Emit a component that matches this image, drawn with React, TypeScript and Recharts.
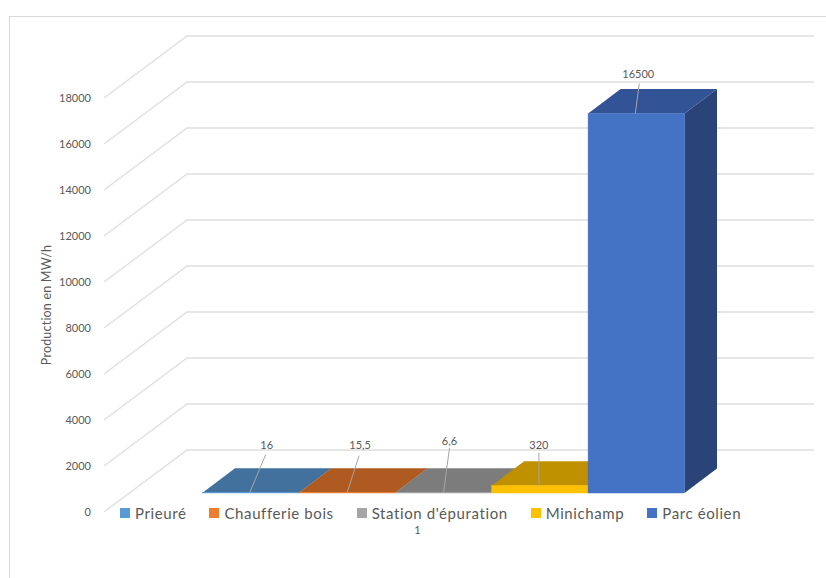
import { Bar, BarChart, CartesianGrid, LabelList, Legend, XAxis, YAxis } from "recharts";

const CATEGORIES = ["1"];
const SERIES_NAMES = ["Prieuré", "Chaufferie bois", "Station d'épuration", "Minichamp", "Parc éolien"];
const SERIES_VALUES = [16, 15.5, 6.6, 320, 16500];
const Y_TICKS = [0, 2000, 4000, 6000, 8000, 10000, 12000, 14000, 16000, 18000];

const FRONT_COLORS = ["#5b9bd5", "#ed7d31", "#a5a5a5", "#ffc000", "#4472c4"];
const TOP_COLORS = ["#41719c", "#ae5a21", "#7c7c7c", "#bf9000", "#325395"];
const SIDE_COLORS = ["#2e5a82", "#8a4519", "#636363", "#997300", "#2a4479"];

// label / leader offsets from the centre of each bar's top edge
const LABEL_OFFSETS = [
  { dx: 16, dy: -48, lx: 15, ly: -38, bx: -1 },
  { dx: 13, dy: -48, lx: 12, ly: -37, bx: 0 },
  { dx: 6, dy: -52, lx: 6, ly: -45, bx: 0 },
  { dx: -1, dy: -41, lx: -1, ly: -33, bx: -1 },
  { dx: 2, dy: -40, lx: 3, ly: -30, bx: -1 }
];

const chartData = CATEGORIES.map((name) => {
  const row: Record<string, string | number> = { name };
  SERIES_NAMES.forEach((s, i) => {
    row[s] = SERIES_VALUES[i];
  });
  return row;
});

// back wall sits up and right of the axis labels
const WALL_DX = 83;
const WALL_DY = -62;
// bars stand a little way into the floor
const BAR_DX = 25.5;
const BAR_DY = -19;
const DEPTH_DX = 32.5;
const DEPTH_DY = -24.5;

const FONT = "Lato, 'Open Sans', sans-serif";
const TEXT_COLOR = "#595959";

function GridLine(props: any) {
  const { x1, x2, y1, key } = props;
  const pts = `${x1},${y1} ${x1 + WALL_DX},${y1 + WALL_DY} ${x2 + WALL_DX},${y1 + WALL_DY}`;
  return <polyline key={key} points={pts} fill="none" stroke="#dedede" strokeWidth={1.3} />;
}

function makeBarShape(index: number) {
  return function BarShape(props: any) {
    const { width, height } = props;
    const x = props.x + BAR_DX;
    const y = props.y + BAR_DY;
    const right = x + width;
    const bottom = y + height;
    const top = `${x},${y} ${x + DEPTH_DX},${y + DEPTH_DY} ${right + DEPTH_DX},${y + DEPTH_DY} ${right},${y}`;
    const side = `${right},${y} ${right + DEPTH_DX},${y + DEPTH_DY} ${right + DEPTH_DX},${bottom + DEPTH_DY} ${right},${bottom}`;
    return (
      <g>
        <polygon points={side} fill={SIDE_COLORS[index]} />
        <polygon points={top} fill={TOP_COLORS[index]} />
        <rect x={x} y={y} width={width} height={height} fill={FRONT_COLORS[index]} stroke={FRONT_COLORS[index]} strokeWidth={0.5} />
      </g>
    );
  };
}

function makeLeaderLabel(index: number) {
  return function LeaderLabel(props: any) {
    const box = props.viewBox;
    const o = LABEL_OFFSETS[index];
    const cx = box.x + box.width / 2 + BAR_DX;
    const cy = box.y + BAR_DY;
    return (
      <g>
        <line x1={cx + o.bx} y1={cy} x2={cx + o.lx} y2={cy + o.ly} stroke="#a6a6a6" strokeWidth={1} />
        <text x={cx + o.dx} y={cy + o.dy} textAnchor="middle" dominantBaseline="central" fontFamily={FONT} fontSize={11} fill={TEXT_COLOR}>
          {String(props.value).replace(".", ",")}
        </text>
      </g>
    );
  };
}

function LegendRow({ payload }: any) {
  return (
    <div style={{ display: "flex", gap: 23, fontFamily: FONT, fontSize: 15, letterSpacing: 0.6, color: TEXT_COLOR, whiteSpace: "nowrap" }}>
      {(payload || []).map((item: any) => (
        <div key={item.value} style={{ display: "flex", alignItems: "center", gap: 5 }}>
          <span style={{ width: 10, height: 10, background: item.color, display: "inline-block" }} />
          <span>{item.value}</span>
        </div>
      ))}
    </div>
  );
}

export default function App() {
  return (
    <div style={{ position: "absolute", left: 0, top: 0, width: 826, height: 578, background: "#fff", overflow: "hidden" }}>
      <div style={{ position: "absolute", left: 9, top: 16, width: 817, height: 562, borderLeft: "1px solid #d9d9d9", borderTop: "1px solid #d9d9d9" }} />
      <div style={{ position: "absolute", left: 0, top: 0 }}>
        <BarChart
          width={826}
          height={578}
          data={chartData}
          margin={{ top: 98, right: 95, bottom: 36, left: 0 }}
          barGap={0}
          barSize={96.4}
          style={{ overflow: "visible" }}
        >
          <CartesianGrid vertical={false} horizontal={GridLine as any} />
          <XAxis
            dataKey="name"
            height={30}
            axisLine={false}
            tickLine={false}
            tickMargin={8}
            tick={{ fontFamily: FONT, fontSize: 11, fill: TEXT_COLOR }}
          />
          <YAxis
            width={104}
            domain={[0, 18000]}
            ticks={Y_TICKS}
            interval={0}
            axisLine={false}
            tickLine={false}
            tickMargin={7}
            tick={{ fontFamily: FONT, fontSize: 11, fill: TEXT_COLOR }}
            label={{
              value: "Production en MW/h",
              angle: -90,
              position: "insideLeft",
              offset: 47,
              style: { fontFamily: FONT, fontSize: 12.5, letterSpacing: 0.2, fill: TEXT_COLOR, textAnchor: "middle" }
            }}
          />
          <Legend
            layout="horizontal"
            verticalAlign="middle"
            align="center"
            itemSorter={null}
            content={<LegendRow />}
            wrapperStyle={{ left: 120, top: 504, width: 660, height: 20 }}
          />
          {SERIES_NAMES.map((name, i) => (
            <Bar key={name} dataKey={name} fill={FRONT_COLORS[i]} shape={makeBarShape(i)} isAnimationActive={false}>
              <LabelList dataKey={name} content={makeLeaderLabel(i)} />
            </Bar>
          ))}
        </BarChart>
      </div>
    </div>
  );
}
